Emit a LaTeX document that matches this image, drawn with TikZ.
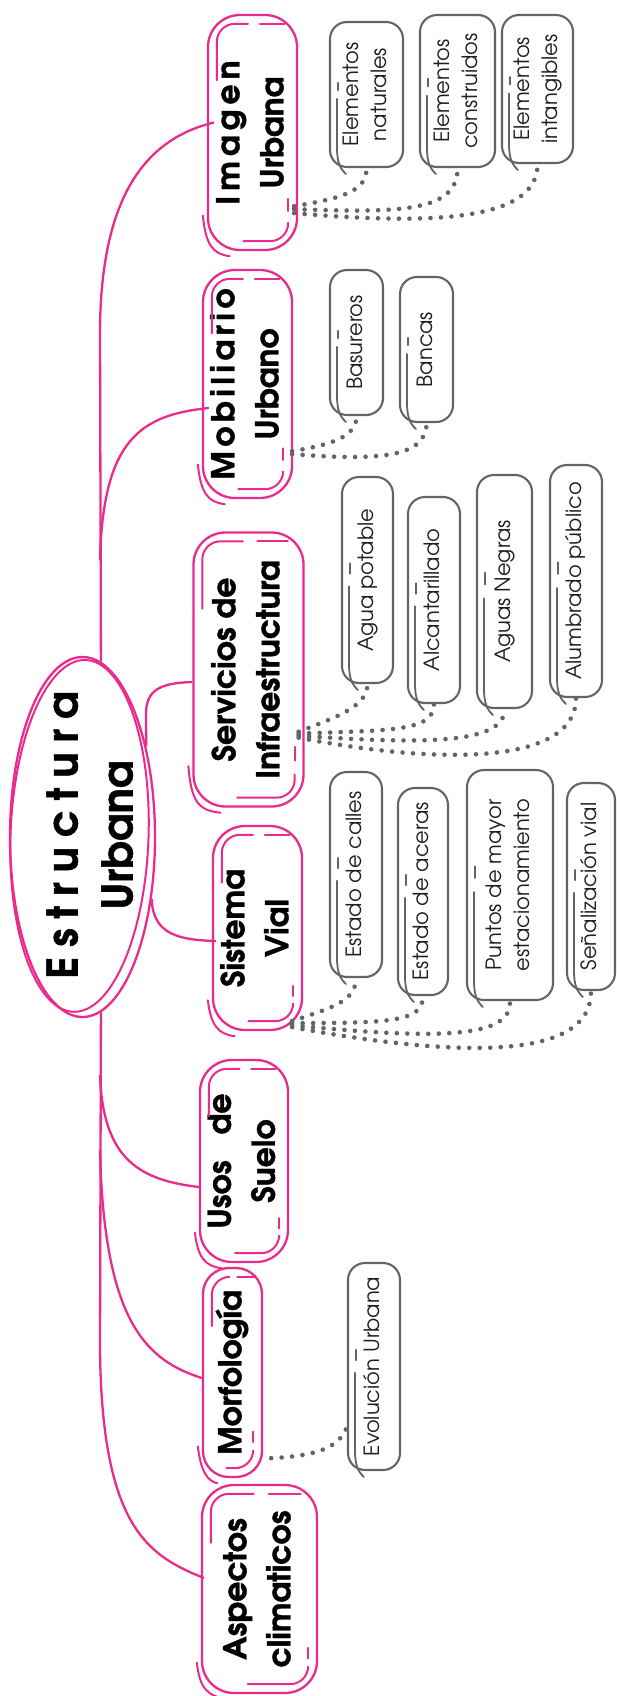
\documentclass[tikz,border=0pt]{standalone}
\usepackage{fontspec}
\usepackage{graphicx}
\setmainfont[BoldFeatures={FakeBold=1.2}]{TeX Gyre Adventor}
\usetikzlibrary{calc,shapes.geometric}
\definecolor{pk}{RGB}{234,43,140}
\definecolor{gr}{RGB}{100,100,100}
\definecolor{dotc}{RGB}{100,100,100}
\definecolor{txt}{RGB}{30,30,30}
\newcommand\pinkfont{\fontsize{31.5}{44}\selectfont\bfseries}
\newcommand\grayfont{\fontsize{21}{28}\selectfont}
\newcommand\rootfont{\fontsize{42}{55}\selectfont\bfseries}
\newcommand\vt[1]{\rotatebox{90}{\begin{tabular}{@{}c@{}}#1\end{tabular}}}
\newcommand\spA{\kern5pt}
\newcommand\spB{\kern4.5pt}
\newcommand\spC{\kern10pt}
\newcommand\pinksk[1]{%
 \draw[pkthin, rounded corners=18pt] ([xshift=10pt]$(#1.north west)!0.28!(#1.south west)$) |- ([yshift=-10pt]$(#1.north west)!0.45!(#1.north east)$);
 \draw[pkthin] ([yshift=-10pt]$(#1.north west)!0.58!(#1.north east)$) -- ([yshift=-10pt]$(#1.north west)!0.85!(#1.north east)$);
 \draw[pkthin, rounded corners=18pt] ([yshift=10pt]$(#1.south west)!0.4!(#1.south east)$) -| ([xshift=-10pt]$(#1.south east)!0.12!(#1.north east)$);
 \draw[pkthin] ([xshift=-10pt]$(#1.south east)!0.17!(#1.north east)$) -- ([xshift=-10pt]$(#1.south east)!0.22!(#1.north east)$);
 \draw[pkthin] ([xshift=-4pt]$(#1.south west)!0.15!(#1.north west)$) .. controls ([xshift=-1pt,yshift=6pt]#1.south west) and ([xshift=6pt,yshift=-3pt]#1.south west) .. ([yshift=-5pt]$(#1.south west)!0.25!(#1.south east)$);
}
\newcommand\graysk[1]{%
 \draw[grthin] ([xshift=9pt]$(#1.north west)!0.42!(#1.south west)$) -- ([xshift=9pt]$(#1.north west)!0.47!(#1.south west)$);
 \draw[grthin] ([xshift=8pt]$(#1.north west)!0.53!(#1.south west)$) -- ([xshift=8pt,yshift=22pt]#1.south west) .. controls ([xshift=8pt,yshift=5pt]#1.south west) and ([xshift=11pt,yshift=0pt]#1.south west) .. ([xshift=17pt,yshift=-6pt]#1.south west);
}
\tikzset{
 pinkbox/.style={draw=pk, line width=2.3pt, rounded corners=32pt, inner sep=0pt, font=\pinkfont, text=black},
 graybox/.style={draw=gr, line width=2.1pt, rounded corners=17pt, inner sep=0pt, font=\grayfont, text=txt},
 wh/.style 2 args={minimum width=#1pt, minimum height=#2pt},
 pinkline/.style={draw=pk, line width=2.3pt},
 pkthin/.style={draw=pk, line width=2pt, line cap=round},
 grthin/.style={draw=gr, line width=1.8pt, line cap=round},
 dotline/.style={draw=dotc, line width=4.6pt, line cap=round, dash pattern=on 0pt off 10.5pt},
}
\begin{document}
\begin{tikzpicture}[x=1pt,y=-1pt]
\fill[white] (0,0) rectangle (616,1696);
\useasboundingbox (0,0) rectangle (616,1696);

% root
\node[ellipse, draw=pk, line width=2.3pt, minimum width=145pt, minimum height=360pt, inner sep=0pt] (root) at (82.5,837) {};
\draw[pk, line width=2pt, rotate around={-2:(root.center)}] ([xshift=-3pt,yshift=1pt]root.center) ellipse [x radius=69pt, y radius=176pt];
\node[font=\rootfont] (roottxt) at (94,835) {\vt{E\spC s\spC t\spC r\spC u\spC c\spC t\spC u\spC r\spC a\\Urbana}};

% pink boxes
\node[pinkbox, wh={89}{235}] (img) at (252.5,132.5) {\vt{I\spA m\spA a\spA g\spA e\spA n\\Urbana}};
\node[pinkbox, wh={89}{228}] (mob) at (247.5,384) {\vt{M\spB o\spB b\spB i\spB l\spB i\spB a\spB r\spB i\spB o\\Urbano}};
\node[pinkbox, wh={110}{274}] (serv) at (248.5,669.5) {\vt{Servicios de\\Infraestructura}};
\node[pinkbox, wh={89}{204}] (sis) at (257.5,928) {\vt{Sistema\\Vial}};
\node[pinkbox, wh={82}{202}] (usos) at (244,1161) {\vt{Usos\kern26pt de\\Suelo}};
\node[pinkbox, wh={59}{209}, rounded corners=26pt] (morf) at (232.5,1372.5) {\vt{Morfología}};
\node[pinkbox, wh={115}{208}] (asp) at (259.5,1589) {\vt{Aspectos\\climaticos}};
\pinksk{img}\pinksk{mob}\pinksk{serv}\pinksk{sis}\pinksk{usos}\pinksk{morf}\pinksk{asp}

% gray boxes
\node[graybox, wh={73}{145}] (nat) at (366.5,94.5) {\vt{Elementos\\naturales}};
\node[graybox, wh={75}{152}] (cons) at (457.5,91) {\vt{Elementos\\construidos}};
\node[graybox, wh={71}{148}] (intg) at (537.5,89) {\vt{Elementos\\intangibles}};
\node[graybox, wh={53}{145}] (bas) at (356.5,342.5) {\vt{Basureros}};
\node[graybox, wh={53}{145}] (ban) at (426.5,349.5) {\vt{Bancas}};
\node[graybox, wh={51}{206}] (agua) at (367.5,580) {\vt{Agua potable}};
\node[graybox, wh={52}{206}] (alc) at (434,600) {\vt{Alcantarillado}};
\node[graybox, wh={55}{233}] (negr) at (504.5,591.5) {\vt{Aguas Negras}};
\node[graybox, wh={52}{232}] (alum) at (576,581) {\vt{Alumbrado público}};
\node[graybox, wh={52}{205}] (calles) at (356,874.5) {\vt{Estado de calles}};
\node[graybox, wh={50}{207}] (aceras) at (423,891.5) {\vt{Estado de aceras}};
\node[graybox, wh={86}{230}] (puntos) at (510,885) {\vt{Puntos de mayor\\estacionamiento}};
\node[graybox, wh={48}{207}] (senal) at (591,886.5) {\vt{Señalización vial}};
\node[graybox, wh={52}{207}] (evol) at (374,1366.5) {\vt{Evolución Urbana}};
\graysk{nat}\graysk{cons}\graysk{intg}\graysk{bas}\graysk{ban}\graysk{agua}\graysk{alc}\graysk{negr}\graysk{alum}\graysk{calles}\graysk{aceras}\graysk{puntos}\graysk{senal}\graysk{evol}

% pink connectors
\coordinate (jm) at (100,560);
\coordinate (ju) at (100,1075);
\coordinate (jf) at (100,1150);
\draw[pinkline] (root.84) -- (100,330) .. controls (101,190) and (150,138) .. ([xshift=7pt,yshift=10pt]img.west);
\draw[pinkline] (jm) .. controls (103,440) and (140,415) .. ([xshift=7pt,yshift=-24pt]mob.west);
\draw[pinkline] (root.55) -- (146,712) .. controls (147,690) and (160,683) .. ([yshift=-12.5pt]serv.west);
\draw[pinkline] (root.-42) .. controls (153,935) and (180,940) .. ([xshift=4pt,yshift=-13pt]sis.west);
\draw[pinkline] (root.-84) -- (100,1350) .. controls (102,1530) and (150,1556) .. ([xshift=3pt,yshift=11pt]asp.west);
\draw[pinkline] (ju) .. controls (103,1160) and (140,1180) .. ([yshift=-26pt]usos.west);
\draw[pinkline] (jf) .. controls (104,1320) and (145,1360) .. ([yshift=-5.5pt]morf.west);

% dotted connectors
\coordinate (imgo) at ([xshift=-4pt,yshift=45pt]img.south east);
\coordinate (mobo) at ([xshift=-1pt,yshift=48pt]mob.south east);
\coordinate (servo) at ([xshift=-6pt,yshift=76pt]serv.south east);
\coordinate (siso) at ([xshift=-11pt,yshift=10pt]sis.south east);
\coordinate (morfo) at ([xshift=8pt,yshift=20pt]morf.south east);
\draw[dotline] (imgo) .. controls (345,198) and (367,190) .. (nat.south);
\draw[dotline] ([yshift=-3pt]imgo) .. controls (400,213) and (458,212) .. (cons.south);
\draw[dotline] ([yshift=-7pt]imgo) .. controls (420,224) and (538,224) .. (intg.south);
\draw[dotline] (mobo) .. controls (330,445) and (357,437) .. (bas.south);
\draw[dotline] ([yshift=-3pt]mobo) .. controls (370,460) and (427,460) .. (ban.south);
\draw[dotline] (servo) .. controls (340,716) and (367,706) .. (agua.south);
\draw[dotline] ([yshift=-2pt]servo) .. controls (390,730) and (434,732) .. (alc.south);
\draw[dotline] ([yshift=-4pt]servo) .. controls (420,744) and (505,745) .. (negr.south);
\draw[dotline] ([yshift=-6pt]servo) .. controls (440,765) and (576,765) .. (alum.south);
\draw[dotline] (siso) .. controls (330,1008) and (356,1002) .. (calles.south);
\draw[dotline] ([yshift=-2pt]siso) .. controls (390,1023) and (423,1022) .. (aceras.south);
\draw[dotline] ([yshift=-4pt]siso) .. controls (440,1040) and (512,1038) .. (puntos.south);
\draw[dotline] ([yshift=-6pt]siso) .. controls (470,1060) and (592,1058) .. (senal.south);
\draw[dotline] (morfo) .. controls (315,1456) and (340,1448) .. ([yshift=-60pt]evol.west);
\end{tikzpicture}
\end{document}
